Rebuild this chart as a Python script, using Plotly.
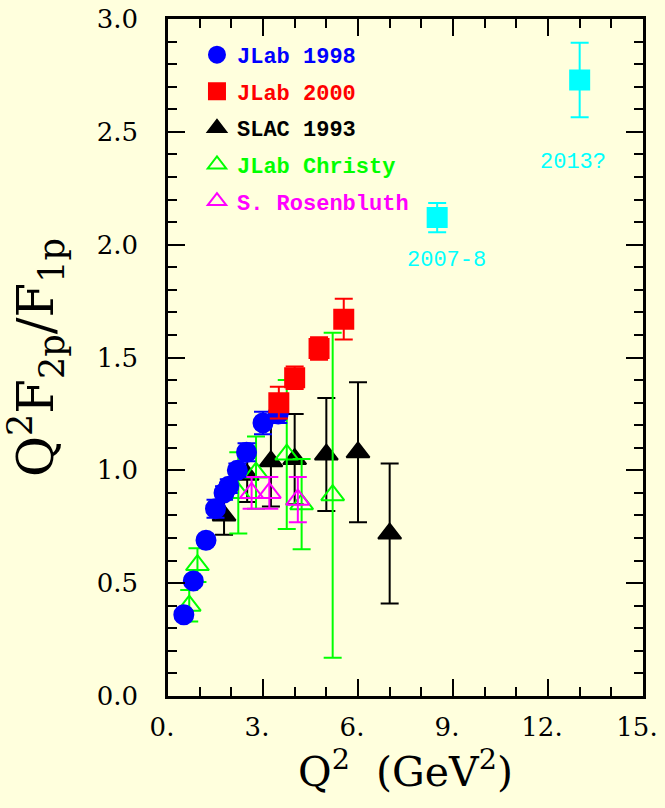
import plotly.graph_objects as go

# ---- data ----
jlab98_x = [0.5, 0.8, 1.2, 1.5, 1.77, 1.92, 2.19, 2.48, 3.0, 3.48]
jlab98_y = [0.36, 0.51, 0.69, 0.83, 0.90, 0.93, 1.00, 1.08, 1.21, 1.25]
jlab98_e = [0.02, 0.02, 0.02, 0.04, 0.03, 0.03, 0.03, 0.04, 0.05, 0.04]

jlab00_x = [3.5, 4.0, 4.77, 5.55]
jlab00_y = [1.30, 1.41, 1.54, 1.67]
jlab00_e = [0.07, 0.05, 0.05, 0.09]

slac_x = [1.77, 2.5, 3.25, 4.0, 5.0, 6.0, 7.0]
slac_y = [0.80, 0.98, 1.04, 1.05, 1.07, 1.08, 0.72]
slac_e = [0.085, 0.12, 0.20, 0.20, 0.25, 0.31, 0.31]

christy_x = [0.67, 0.93, 2.22, 2.78, 3.75, 4.22, 5.2]
christy_y = [0.40, 0.58, 0.90, 0.99, 1.07, 0.85, 0.89]
christy_e = [0.07, 0.075, 0.18, 0.16, 0.33, 0.20, 0.72]

rosen_x = [2.64, 3.2, 4.1]
rosen_y = [0.90, 0.90, 0.87]
rosen_e = [0.07, 0.07, 0.10]

future_x = [8.5, 13.0]
future_y = [2.12, 2.73]
future_e = [0.065, 0.165]
future_labels = ["2007-8", "2013?"]
future_label_x = [8.8, 12.8]
future_label_y = [1.93, 2.365]

x_tickvals = [0, 3, 6, 9, 12, 15]
x_ticktext = ["0.", "3.", "6.", "9.", "12.", "15."]
y_tickvals = [0.0, 0.5, 1.0, 1.5, 2.0, 2.5, 3.0]
y_ticktext = ["0.0", "0.5", "1.0", "1.5", "2.0", "2.5", "3.0"]

BG = "#FFFFDD"
MONO = "Liberation Mono"
SERIF = "DejaVu Serif"

fig = go.Figure()

def add(x, y, e, color, symbol, name, rank, size=19, show=True):
    fig.add_trace(go.Scatter(
        x=x, y=y, mode="markers",
        name=f"<span style='color:{color}'><b>{name}</b></span>" if name else None,
        showlegend=show, legendrank=rank, legendgroup=name or "none",
        marker=dict(symbol=symbol, size=size, color=color,
                    line=dict(color=color, width=2)),
        error_y=dict(type="data", array=e, visible=True, color=color,
                     thickness=2, width=9),
    ))

add(slac_x, slac_y, slac_e, "#000000", "triangle-up", "SLAC 1993", 3, size=20)
add(christy_x, christy_y, christy_e, "#00FF00", "triangle-up-open", "JLab Christy", 4, size=20)
add(rosen_x, rosen_y, rosen_e, "#FF00FF", "triangle-up-open", "S. Rosenbluth", 5, size=20)
add(jlab98_x, jlab98_y, jlab98_e, "#0000FF", "circle", "JLab 1998", 1)
add(jlab00_x, jlab00_y, jlab00_e, "#FF0000", "square", "JLab 2000", 2)
add(future_x, future_y, future_e, "#00FFFF", "square", None, 6, show=False)

for lx, ly, t in zip(future_label_x, future_label_y, future_labels):
    fig.add_annotation(x=lx, y=ly, text=t, showarrow=False,
                       font=dict(family=MONO, size=22, color="#00FFFF"))

axis_common = dict(
    showgrid=False, zeroline=False, showline=True, linecolor="black",
    linewidth=2.5, mirror="ticks", ticks="inside", tickcolor="black",
    tickwidth=2, ticklen=17, automargin=False,
    tickfont=dict(family=SERIF, size=26, color="black"),
)

fig.update_xaxes(
    range=[0, 15], tickmode="array", tickvals=x_tickvals, ticktext=x_ticktext,
    minor=dict(dtick=1, ticks="inside", ticklen=9, tickcolor="black", tickwidth=2),
    ticklabelstandoff=6, ticklabelshift=-6,
    title=dict(text="Q<sup>2</sup>  (GeV<sup>2</sup>)",
               font=dict(family=SERIF, size=41, color="black"), standoff=13),
    **axis_common,
)
fig.update_yaxes(
    range=[0, 3], tickmode="array", tickvals=y_tickvals, ticktext=y_ticktext,
    minor=dict(dtick=0.1, ticks="inside", ticklen=9, tickcolor="black", tickwidth=2),
    ticklabelstandoff=22,
    title=dict(text="Q<sup>2</sup>F<sub>2p</sub>/F<sub>1p</sub>",
               font=dict(family=SERIF, size=50, color="black"), standoff=30),
    **axis_common,
)

fig.update_layout(
    width=665, height=808,
    margin=dict(l=168, r=22, t=19, b=112),
    paper_bgcolor=BG, plot_bgcolor=BG,
    showlegend=True,
    legend=dict(x=0.061, y=0.978, xanchor="left", yanchor="top",
                bgcolor="rgba(0,0,0,0)", borderwidth=0,
                font=dict(family=MONO, size=22, color="black"),
                tracegroupgap=5, itemsizing="trace"),
)

fig.write_html("out.html")
